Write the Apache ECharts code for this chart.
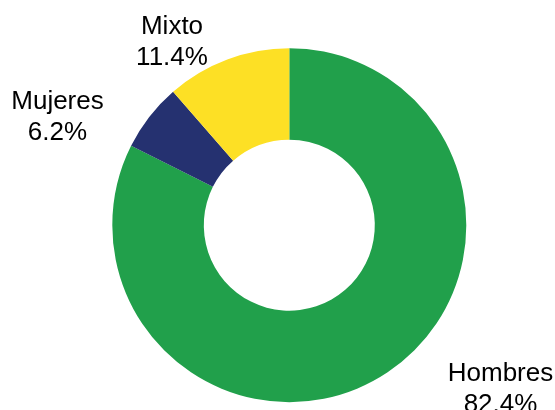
<!DOCTYPE html>
<html>
<head>
<meta charset="utf-8">
<style>html,body{margin:0;padding:0;background:#fff;}#c{width:555px;height:410px;}</style>
<script src="https://cdn.jsdelivr.net/npm/echarts@6/dist/echarts.min.js"></script>
</head>
<body>
<div id="c"></div>
<script>
const categories = ['Hombres', 'Mujeres', 'Mixto'];
const values = [82.4, 6.2, 11.4];
const colors = ['#21a04b', '#253170', '#fde025'];
const labelPos = [[500.5, 389], [57.5, 117], [172, 42.5]];

const chart = echarts.init(document.getElementById('c'), null, {renderer: 'canvas'});
chart.setOption({
  animation: false,
  series: [{
    type: 'pie',
    center: [289.3, 225.2],
    radius: [85.5, 177],
    startAngle: 90,
    clockwise: true,
    emphasis: {disabled: true},
    data: categories.map((c, i) => ({name: c, value: values[i], itemStyle: {color: colors[i]}})),
    label: {
      show: true,
      position: 'outside',
      formatter: p => p.name + '\n' + p.value.toFixed(1) + '%',
      fontFamily: 'Liberation Sans, Arial, sans-serif',
      fontSize: 26,
      lineHeight: 31,
      color: '#000',
      align: 'center'
    },
    labelLine: {show: false},
    labelLayout: p => ({
      x: labelPos[p.dataIndex][0],
      y: labelPos[p.dataIndex][1],
      align: 'center',
      verticalAlign: 'middle',
      hideOverlap: false
    })
  }]
});
</script>
</body>
</html>
